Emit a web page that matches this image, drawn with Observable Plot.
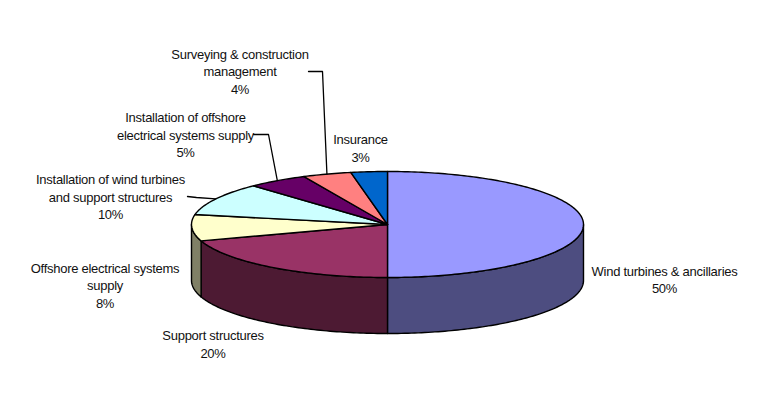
<!DOCTYPE html>
<html>
<head>
<meta charset="utf-8">
<script src="https://cdn.jsdelivr.net/npm/d3@7"></script>
<script src="https://cdn.jsdelivr.net/npm/@observablehq/plot@0.6"></script>
<style>html,body{margin:0;padding:0;background:#fff}svg{display:block}</style>
</head>
<body>
<div id="chart"></div>
<script>
// Data, clockwise from twelve o'clock
const names = ["Wind turbines & ancillaries","Support structures","Offshore electrical systems\nsupply","Installation of wind turbines\nand support structures","Installation of offshore\nelectrical systems supply","Surveying & construction\nmanagement","Insurance"];
const shares = [50,20,8,10,5,4,3];
const topColors = ["#9999FF","#993366","#FFFFCC","#CCFFFF","#660066","#FF8080","#0066CC"];
const sideColors = ["#4D4D80","#4D1A33","#808066","#668080","#330033","#804040","#003366"];

// Layout
const W = 773, H = 420;
const cx = 387, cy = 224, rx = 196, ry = 53, depth = 56;
const labelPos = [[664,278.5],[212.5,343],[104.5,284],[110,195.5],[185,133.5],[239.5,70],[360,147]];
const leaderFrom = [null,null,null,[187,196],[253,134],[308,71],null];
const leaderElbow = [null,null,null,[196,197],[268,134],[322,71],null];

const rad = d => d * Math.PI / 180;
const rim = (deg, dy = 0) => ({x: cx + rx * Math.sin(rad(deg)), y: cy - ry * Math.cos(rad(deg)) + dy});
const arc = (a, b, dy = 0) => {
  const n = Math.max(2, Math.ceil(Math.abs(b - a)));
  return d3.range(n + 1).map(i => rim(a + (b - a) * i / n, dy));
};

let acc = 0;
const slices = shares.map((s, i) => {
  const start = acc * 3.6; acc += s;
  return {i, start, end: acc * 3.6, mid: (start + acc * 3.6) / 2};
});

const wallPts = [], topPts = [];
slices.forEach(({i, start, end}) => {
  const a = Math.max(start, 90), b = Math.min(end, 270);
  if (b > a) {
    [...arc(a, b), ...arc(b, a, depth)].forEach(p => wallPts.push({...p, key: i, fill: sideColors[i]}));
  }
  [{x: cx, y: cy}, ...arc(start, end)].forEach(p => topPts.push({...p, key: i, fill: topColors[i]}));
});

const leaderPts = [];
slices.forEach(({i, mid}) => {
  if (!leaderFrom[i]) return;
  const [x0, y0] = leaderFrom[i], [x1, y1] = leaderElbow[i], e = rim(mid);
  [{x: x0, y: y0}, {x: x1, y: y1}, e].forEach(p => leaderPts.push({...p, key: i}));
});

const labels = names.map((n, i) => ({x: labelPos[i][0], y: labelPos[i][1], text: `${n}\n${shares[i]}%`}));

const polyStyle = {x: "x", y: "y", z: "key", fill: "fill", stroke: "#000", strokeWidth: 1.4, strokeLinejoin: "round", curve: "linear-closed"};

const plot = Plot.plot({
  width: W, height: H, margin: 0,
  x: {domain: [0, W], range: [0, W], axis: null},
  y: {domain: [0, H], range: [0, H], axis: null},
  color: {type: "identity"},
  style: {background: "#fff", letterSpacing: "-0.27px"},
  marks: [
    Plot.line(wallPts, polyStyle),
    Plot.line(topPts, polyStyle),
    Plot.line(leaderPts, {x: "x", y: "y", z: "key", stroke: "#000", strokeWidth: 1.3}),
    Plot.text(labels, {x: "x", y: "y", text: "text", textAnchor: "middle", lineAnchor: "middle", lineHeight: 1.35, fontSize: 13, fontFamily: "Liberation Sans", fill: "#111"})
  ]
});
document.getElementById("chart").appendChild(plot);
</script>
</body>
</html>
